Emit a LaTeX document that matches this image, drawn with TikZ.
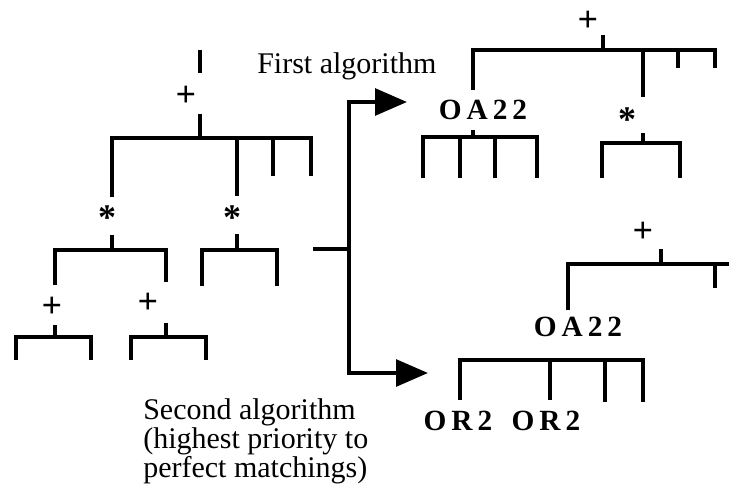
\documentclass[tikz,border=0pt]{standalone}
\usepackage{fontspec}
\setmainfont{Liberation Serif}
\usetikzlibrary{arrows.meta}
\tikzset{
  bar/.style={line width=3.5pt, line join=miter},
  opsym/.style={inner sep=0pt, font=\bfseries\fontsize{27}{27}\selectfont},
  gate/.style={inner sep=0pt, font=\bfseries\fontsize{22}{22}\selectfont\addfontfeatures{LetterSpace=17}},
  caption/.style={inner sep=0pt, align=left, font=\fontsize{22.5}{22}\selectfont},
  choice/.style={line width=3pt, line join=miter, -{Triangle[length=24pt,width=20pt]}},
}
\begin{document}
\begin{tikzpicture}[x=0.75pt,y=-0.75pt]
  \useasboundingbox (0,0) rectangle (729,497);
  \clip (0,0) rectangle (729,497);
  % left tree: root sum
  \draw[bar] (200,50) -- (200,73);
  \node[opsym] (lroot) at (186,96) {+};
  \draw[bar] (200,114) -- (200,138);
  \draw[bar] (112,197) -- (112,138) -- (311,138) -- (311,176);
  \draw[bar] (237,138) -- (237,196);
  \draw[bar] (273,138) -- (273,176);
  % products
  \node[opsym] (lprod1) at (107,218) {*};
  \node[opsym] (lprod2) at (232,218) {*};
  \draw[bar] (112,235) -- (112,250);
  \draw[bar] (55,285) -- (55,250) -- (166,250) -- (166,282);
  \draw[bar] (237,234) -- (237,250);
  \draw[bar] (202,286) -- (202,250) -- (277,250) -- (277,286);
  % sums at the leaves
  \node[opsym] (lsum1) at (52,307) {+};
  \node[opsym] (lsum2) at (148,303) {+};
  \draw[bar] (55,325) -- (55,337);
  \draw[bar] (16,360) -- (16,337) -- (91,337) -- (91,360);
  \draw[bar] (166,323) -- (166,337);
  \draw[bar] (131,360) -- (131,337) -- (206,337) -- (206,360);

  % the two algorithms
  \coordinate (src) at (313,249);
  \coordinate (fork) at (349,249);
  \coordinate (up) at (407,102);
  \coordinate (down) at (428,373);
  \draw[line width=3pt] (src) -- (fork);
  \draw[choice] (fork) |- (up);
  \draw[choice] (fork) |- (down);
  \node[caption, anchor=base west] (first) at (257,73) {First algorithm};
  \node[caption, anchor=north west] (second) at (143,398) {Second algorithm\\(highest priority to\\perfect matchings)};

  % first result
  \node[opsym] (rsum1) at (588,21) {+};
  \draw[bar] (603,35) -- (603,50);
  \draw[bar] (473,90) -- (473,50) -- (715,50) -- (715,68);
  \draw[bar] (643,50) -- (643,97);
  \draw[bar] (678,50) -- (678,68);
  \node[gate] (oa1) at (483,110) {OA22};
  \node[opsym] (rprod) at (627,120) {*};
  \draw[bar] (473,130) -- (473,137);
  \draw[bar] (423,178) -- (423,137) -- (537,137) -- (537,178);
  \draw[bar] (460,137) -- (460,178);
  \draw[bar] (495,137) -- (495,178);
  \draw[bar] (643,133) -- (643,143);
  \draw[bar] (602,178) -- (602,143) -- (680,143) -- (680,178);

  % second result
  \node[opsym] (rsum2) at (643,232) {+};
  \draw[bar] (661,249) -- (661,264);
  \draw[bar] (568,310) -- (568,264) -- (740,264);
  \draw[bar] (715,264) -- (715,288);
  \draw[bar] (731,264) -- (731,288);
  \node[gate] (oa2) at (578,327) {OA22};
  \draw[bar] (460,400) -- (460,360) -- (643,360) -- (643,402);
  \draw[bar] (550,360) -- (550,400);
  \draw[bar] (605,360) -- (605,402);
  \node[gate] (or1) at (458,421) {OR2};
  \node[gate] (or2) at (546,421) {OR2};
\end{tikzpicture}
\end{document}
